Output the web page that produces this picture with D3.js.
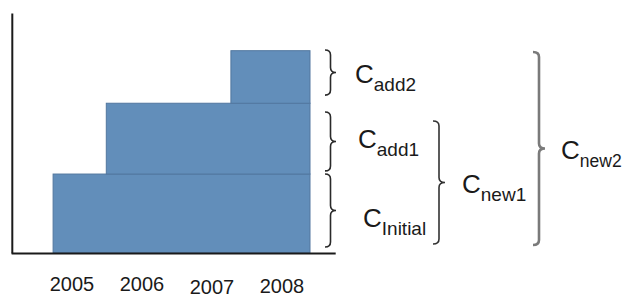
<!DOCTYPE html>
<html><head><meta charset="utf-8">
<script src="https://cdn.jsdelivr.net/npm/d3@7"></script>
<style>html,body{margin:0;padding:0;background:#fff;}svg{display:block;}</style>
</head><body>
<script>
// ---- data ----
const years = ["2005", "2006", "2007", "2008"];
const yearValues = [2005, 2006, 2007, 2008];
const tierNames = ["Initial", "add1", "add2"];
const tierValues = [32.9, 29.5, 21.9];
const tierStart = [2004.73, 2005.49, 2007.27];
const periodEnd = 2008.4;
const braceLabels = ["add2", "add1", "Initial", "new1", "new2"];
const braceLow = [65.8, 34.2, 2.5, 3.75, 3.33];
const braceHigh = [84.6, 58.75, 32.9, 55, 83.75];

const W = 626, H = 298;
const svg = d3.select("body").append("svg").attr("width", W).attr("height", H);

const x = d3.scaleLinear().domain([2004.5, 2008.5]).range([37, 317]);
const y = d3.scaleLinear().domain([0, 100]).range([253, 13]);

// bars (stacked tiers)
let cum = 0;
const bars = tierValues.map((v, i) => { const b = {lo: cum, hi: cum + v, start: tierStart[i]}; cum += v; return b; });
svg.append("g").selectAll("rect").data(bars).join("rect")
  .attr("x", d => x(d.start)).attr("width", d => x(periodEnd) - x(d.start))
  .attr("y", d => y(d.hi)).attr("height", d => y(d.lo) - y(d.hi))
  .attr("fill", "#628eba").attr("stroke", "#52779f").attr("stroke-width", 1);

// axes
const axisX = d3.scaleLinear().domain([2004.13, 2008.76]).range([x(2004.13), x(2008.76)]);
const gx = svg.append("g").attr("transform", `translate(0,${y(0)})`)
  .call(d3.axisBottom(axisX).tickValues([]).tickSizeOuter(0));
const gy = svg.append("g").attr("transform", `translate(${x(2004.14)},0)`)
  .call(d3.axisLeft(y).tickValues([]).tickSizeOuter(0));
[gx, gy].forEach(g => g.select(".domain").attr("stroke", "#1a1a1a").attr("stroke-width", 2));

// year labels
const yearDy = [291, 291, 293.5, 292.5];
svg.append("g").selectAll("text").data(years).join("text")
  .attr("x", (d, i) => x(yearValues[i])).attr("y", (d, i) => yearDy[i])
  .attr("text-anchor", "middle")
  .attr("font-family", "Liberation Sans, Arial, sans-serif").attr("font-size", 20)
  .attr("fill", "#1a1a1a").text(d => d);

// braces
function bracePath(bx, y0, y1, w) {
  const ym = (y0 + y1) / 2, m = bx + w / 2, r = Math.min(5, (y1 - y0) / 6);
  return `M${bx},${y0} Q${m},${y0} ${m},${y0 + r} L${m},${ym - r} Q${m},${ym} ${bx + w},${ym}` +
    ` Q${m},${ym} ${m},${ym + r} L${m},${y1 - r} Q${m},${y1} ${bx},${y1}`;
}
const braceX = [325, 325, 325, 433, 533];
const braceW = [11, 11, 11, 12, 12];
const braceStroke = ["#2a2a2a", "#2a2a2a", "#2a2a2a", "#333", "#7a7a7a"];
const braceSW = [1.6, 1.6, 1.6, 1.6, 2.6];
const labelDx = [19, 22, 27, 17, 16];
const labelDy = [0, -3, 6, 0, 0];
const subSize = [19, 19, 19, 19, 17.5];

braceLabels.forEach((lab, i) => {
  const y0 = y(braceHigh[i]), y1 = y(braceLow[i]), ym = (y0 + y1) / 2;
  svg.append("path").attr("d", bracePath(braceX[i], y0, y1, braceW[i]))
    .attr("fill", "none").attr("stroke", braceStroke[i]).attr("stroke-width", braceSW[i]);
  const t = svg.append("text")
    .attr("x", braceX[i] + braceW[i] + labelDx[i]).attr("y", ym + 10 + labelDy[i])
    .attr("font-family", "Liberation Sans, Arial, sans-serif").attr("fill", "#1a1a1a");
  t.append("tspan").attr("font-size", 26).text("C");
  t.append("tspan").attr("font-size", subSize[i]).attr("dy", 8).text(lab);
});
</script>
</body></html>
